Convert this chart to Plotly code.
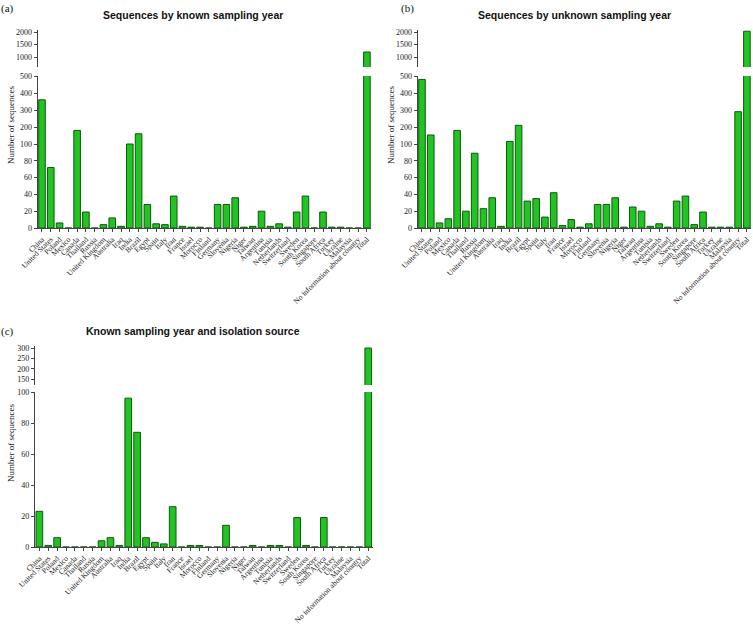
import plotly.graph_objects as go

countries = ["China", "United States", "Poland", "Mexico", "Canada", "Thailand", "Russia",
             "United Kingdom", "Australia", "Iraq", "India", "Brazil", "Egypt", "Spain", "Italy",
             "Iran", "France", "Israel", "Morocco", "Finland", "Germany", "Slovenia", "Nigeria",
             "Niger", "Taiwan", "Argentina", "Tunisia", "Netherlands", "Switzerland", "Sweden",
             "South Korea", "Singapore", "South Africa", "Turkey", "Ukraine", "Malaysia",
             "No information about country", "Total"]

known_year = [360, 72, 6, 0, 180, 19, 0, 4, 12, 2, 100, 160, 28, 5, 4, 38, 2, 1, 1, 0, 28, 28, 36,
              1, 2, 20, 2, 5, 1, 19, 38, 0, 19, 1, 1, 0, 0, 1200]
unknown_year = [480, 153, 6, 11, 180, 20, 89, 23, 36, 2, 115, 210, 32, 35, 13, 42, 3, 10, 1, 5, 28,
                28, 36, 1, 25, 20, 2, 5, 1, 32, 38, 4, 19, 1, 1, 1, 290, 2030]
known_source = [23, 1, 6, 0, 0, 0, 0, 4, 6, 1, 96, 74, 6, 3, 2, 26, 0, 1, 1, 0, 0, 14, 0, 0, 1, 0,
                1, 1, 0, 19, 1, 0, 19, 0, 0, 0, 0, 300]

titles = ["Sequences by known sampling year", "Sequences by unknown sampling year",
          "Known sampling year and isolation source"]
panel_labels = ["(a)", "(b)", "(c)"]

W, H = 753, 627
FILL = "#22c322"
EDGE = "#0c5a0c"
AX = "#444444"
SERIF = "Liberation Serif"


def xd(a, b):
    return [a / W, b / W]


def yd(top, bottom):
    return [1 - bottom / H, 1 - top / H]


fig = go.Figure()
layout = {}

panels = [
    dict(data=known_year, xdom=(37.6, 371.3), xa="x", segs=[
        ("y", 144, 228, [0, 100], [0, 20, 40, 60, 80, 100]),
        ("y2", 76, 144, [100, 500], [200, 300, 400, 500]),
        ("y3", 30, 67, [600, 2080], [1000, 1500, 2000])]),
    dict(data=unknown_year, xdom=(417.6, 751.3), xa="x2", segs=[
        ("y4", 144, 228, [0, 100], [0, 20, 40, 60, 80, 100]),
        ("y5", 76, 144, [100, 500], [200, 300, 400, 500]),
        ("y6", 30, 67, [600, 2080], [1000, 1500, 2000])]),
    dict(data=known_source, xdom=(34.9, 372.7), xa="x3", segs=[
        ("y7", 392, 547, [0, 100], [0, 20, 40, 60, 80, 100]),
        ("y8", 346, 385, [121, 310], [150, 200, 250, 300])]),
]

for p in panels:
    xa = p["xa"]
    lower = p["segs"][0][0]
    layout[xa.replace("x", "xaxis")] = dict(
        domain=xd(*p["xdom"]), anchor=lower, type="category",
        categoryorder="array", categoryarray=countries,
        tickmode="array", tickvals=countries, ticktext=countries,
        showline=True, linecolor=AX, linewidth=1, ticks="outside", ticklen=3,
        tickcolor=AX, tickangle=-45, tickfont=dict(family=SERIF, size=7.6, color="#222"),
        showgrid=False, zeroline=False, fixedrange=True, automargin=False)
    for ya, top, bot, rng, tv in p["segs"]:
        layout[ya.replace("y", "yaxis")] = dict(
            domain=yd(top, bot), anchor=xa, range=rng, tickvals=tv,
            showline=True, linecolor=AX, linewidth=1, ticks="outside", ticklen=3,
            tickcolor=AX, tickfont=dict(family=SERIF, size=8, color="#222"),
            showgrid=False, zeroline=False, fixedrange=True, automargin=False)
        fig.add_trace(go.Bar(x=countries, y=p["data"], xaxis=xa, yaxis=ya,
                             marker=dict(color=FILL, line=dict(color=EDGE, width=1)),
                             width=0.75, showlegend=False, hoverinfo="x+y"))

annotations = []
title_pos = [(193, 15), (574, 15), (193, 331)]
for t, (x, y) in zip(titles, title_pos):
    annotations.append(dict(text="<b>" + t + "</b>", x=x / W, y=1 - y / H, xref="paper",
                            yref="paper", showarrow=False, xanchor="center", yanchor="middle",
                            font=dict(family="Liberation Sans", size=10.5, color="#111")))
label_pos = [(8, 8), (407, 8), (7, 332)]
for t, (x, y) in zip(panel_labels, label_pos):
    annotations.append(dict(text=t, x=x / W, y=1 - y / H, xref="paper", yref="paper",
                            showarrow=False, xanchor="center", yanchor="middle",
                            font=dict(family=SERIF, size=11, color="#111")))
ytitle_pos = [(11, 125), (391, 125), (11, 443)]
for x, y in ytitle_pos:
    annotations.append(dict(text="Number of sequences", x=x / W, y=1 - y / H, xref="paper",
                            yref="paper", showarrow=False, textangle=-90, xanchor="center",
                            yanchor="middle", font=dict(family=SERIF, size=9, color="#222")))

fig.update_layout(width=W, height=H, margin=dict(l=0, r=0, t=0, b=0, autoexpand=False),
                  paper_bgcolor="white", plot_bgcolor="white", bargap=0.25,
                  annotations=annotations, **layout)

fig.write_html("out.html", config={"displayModeBar": False},
               post_script="document.body.style.margin='0';document.body.style.padding='0';"
                           "document.body.style.overflow='hidden';")
